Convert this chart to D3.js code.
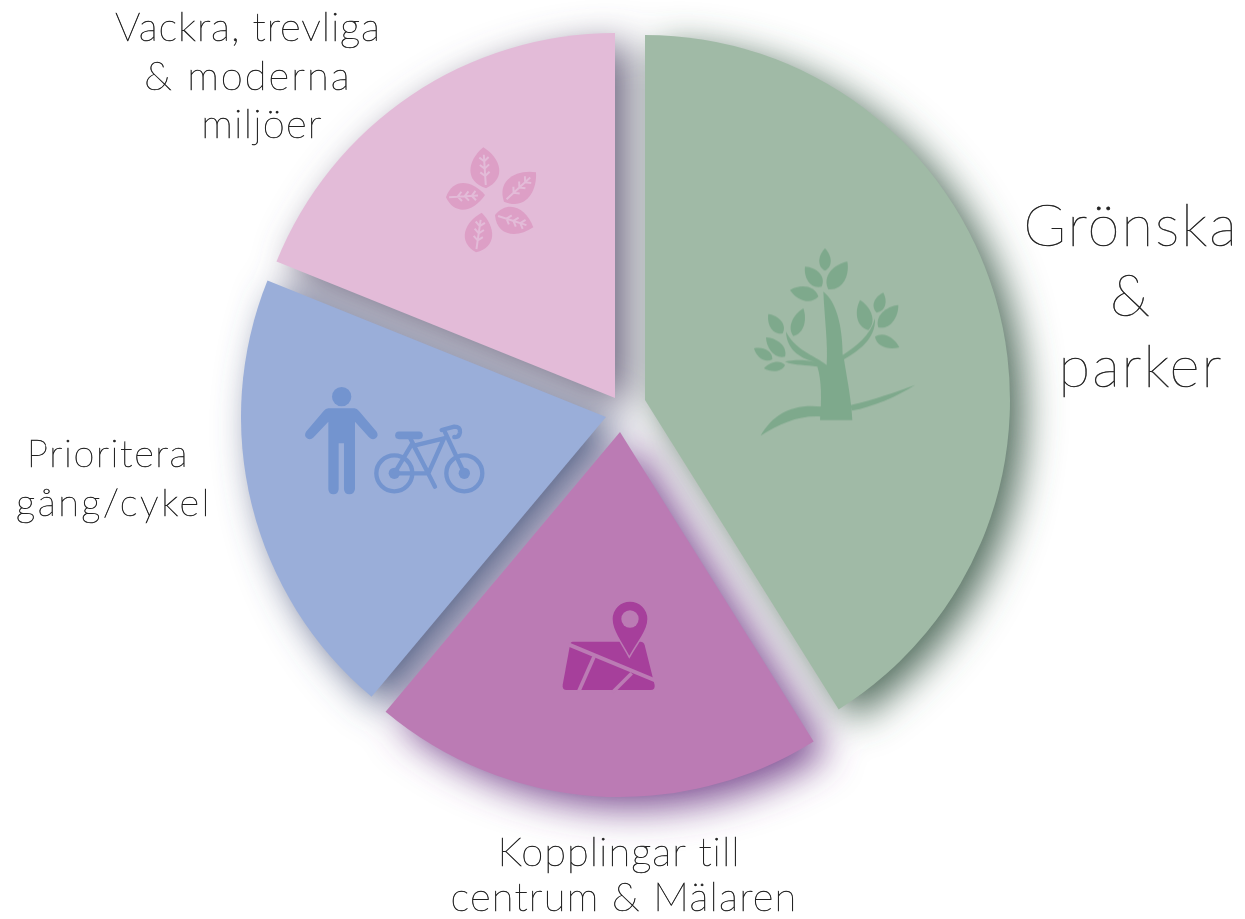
<!DOCTYPE html>
<html><head><meta charset="utf-8">
<script src="https://cdn.jsdelivr.net/npm/d3@7/dist/d3.min.js"></script>
<style>html,body{margin:0;padding:0;background:#fff}svg{display:block}</style></head>
<body><svg id="c" width="1245" height="919"></svg>
<script>
// DATA
const categories = ["Grönska & parker","Kopplingar till centrum & Mälaren","Prioritera gång/cykel","Vackra, trevliga & moderna miljöer"];
const values = [41.1, 20, 20, 18.9];
const sliceColors = ["#a0baa6","#bb7bb4","#9aaed9","#e3bbd8"];
const shadowColors = ["#4a6555","#74408a","#4d5a80","#66607a"];
const iconColors = ["#7ea98c","#a63f9b","#7394cf","#dd9fc6"];

// LAYOUT
const W=1245,H=919,R=365;
const apexes=[[645,400],[620,432],[606,417],[615,398]];
const svg=d3.select("#c");
const defs=svg.append("defs");
defs.append("filter").attr("id","blur").attr("filterUnits","userSpaceOnUse").attr("x",0).attr("y",0).attr("width",W).attr("height",H)
  .append("feGaussianBlur").attr("stdDeviation",19);
const pie=d3.pie().sort(null).value(d=>d)(values);
const arc=d3.arc().innerRadius(0).outerRadius(R);
const shadows=svg.append("g").attr("filter","url(#blur)");
shadows.selectAll("path").data(pie).join("path")
  .attr("d",arc).attr("fill",(d,i)=>shadowColors[i]).attr("opacity",.95)
  .attr("transform",(d,i)=>`translate(${apexes[i][0]+14},${apexes[i][1]+11})`);
svg.append("g").selectAll("path").data(pie).join("path")
  .attr("d",arc).attr("fill",(d,i)=>sliceColors[i])
  .attr("transform",(d,i)=>`translate(${apexes[i][0]},${apexes[i][1]})`);

// ICONS (decorative glyphs, drawn in a 3x local grid)
function leaf(g,x1,y1,x2,y2,w,fill){
  const dx=x2-x1,dy=y2-y1,L=Math.hypot(dx,dy),nx=-dy/L*w*.82,ny=dx/L*w*.82;
  const a=[x1+dx*.2+nx,y1+dy*.2+ny],b=[x1+dx*.2-nx,y1+dy*.2-ny],
        a2=[x1+dx*.7+nx*.8,y1+dy*.7+ny*.8],b2=[x1+dx*.7-nx*.8,y1+dy*.7-ny*.8];
  g.append("path").attr("fill",fill)
   .attr("d",`M${x1},${y1}C${a} ${a2} ${x2},${y2}C${b2} ${b} ${x1},${y1}Z`);
}
// tree
const tree=svg.append("g").attr("transform","translate(740,240) scale(0.3333)");
const tc=iconColors[0];
[[255,92,255,25,31],[245,140,195,80,38],[265,148,322,65,46],[235,170,150,150,38],
 [385,270,360,180,40],[410,218,430,158,31],[415,262,475,195,38],[405,290,478,322,32],
 [160,288,190,205,34],[128,280,85,222,34],[135,350,78,292,34],[97,358,42,325,28],[135,375,72,385,24]]
 .forEach(l=>leaf(tree,...l,tc));
tree.append("path").attr("fill",tc).attr("d","M240,540L337,540C334,480 322,420 312,358C350,335 408,300 405,235C392,285 350,318 308,345C308,280 296,190 250,155C254,240 264,310 260,375C220,345 165,330 138,275C140,335 190,358 225,366C190,358 160,360 135,365C165,378 200,374 232,380C245,420 245,480 240,540Z");
tree.append("path").attr("fill",tc).attr("d","M62,587C100,520 160,490 245,500L245,530C180,525 120,550 62,587Z");
tree.append("path").attr("fill",tc).attr("d","M332,495C400,480 470,455 525,435C470,470 400,500 335,512Z");
// flower
const fl=svg.append("g").attr("transform","translate(430,140) scale(0.3333)");
[[168,145,160,22,78],[222,185,318,97,74],[195,225,310,262,72],[138,337,155,218,74],[48,172,165,165,72]].forEach(l=>{
  leaf(fl,...l,iconColors[3]);
  const [x1,y1,x2,y2]=l,dx=x2-x1,dy=y2-y1;
  let s=`M${x1+dx*.08},${y1+dy*.08}L${x1+dx*.82},${y1+dy*.82}`;
  [.3,.48,.66].forEach(t=>{
    const cx=x1+dx*t,cy=y1+dy*t,L=Math.hypot(dx,dy),ux=dx/L,uy=dy/L,nx=-uy,ny=ux;
    s+=`M${cx},${cy}L${cx+ux*12+nx*14},${cy+uy*12+ny*14}M${cx},${cy}L${cx+ux*12-nx*14},${cy+uy*12-ny*14}`;
  });
  fl.append("path").attr("d",s).attr("fill","none").attr("stroke",sliceColors[3]).attr("stroke-width",6);
});
// person + bicycle
const pb=svg.append("g").attr("transform","translate(295,375) scale(0.3333)");
const bc=iconColors[2];
pb.append("circle").attr("cx",140).attr("cy",65).attr("r",29).attr("fill",bc);
pb.append("path").attr("fill",bc).attr("d","M100,100H178Q186,100 192,108L245,170Q252,182 242,190Q232,197 222,187L180,140V342Q178,358 163,358Q148,358 147,342V205H131V342Q130,358 115,358Q101,358 100,342V140L56,187Q46,197 36,190Q26,182 33,170L86,108Q92,100 100,100Z");
pb.selectAll(".w").data([[298,295],[508,295]]).join("circle").attr("cx",d=>d[0]).attr("cy",d=>d[1]).attr("r",54).attr("fill","none").attr("stroke",bc).attr("stroke-width",13);
pb.selectAll(".h").data([[298,295],[508,295]]).join("circle").attr("cx",d=>d[0]).attr("cy",d=>d[1]).attr("r",17).attr("fill",bc);
pb.append("path").attr("fill","none").attr("stroke",bc).attr("stroke-width",13).attr("stroke-linecap","round").attr("stroke-linejoin","round")
  .attr("d","M298,295L352,205L400,295L298,295M345,188L420,335M357,212L447,190L400,295M447,165L508,295M440,165L478,155Q497,155 495,172Q492,188 478,186");
pb.append("line").attr("x1",312).attr("y1",181).attr("x2",372).attr("y2",181).attr("stroke",bc).attr("stroke-width",23).attr("stroke-linecap","round");
// map pin
const mp=svg.append("g").attr("transform","translate(550,595) scale(0.3333)");
const mc=iconColors[1];
mp.append("path").attr("fill",mc).attr("d","M68,140H272Q280,140 284,150L314,270Q316,285 302,285H50Q36,285 38,270L60,150Q62,140 68,140Z");
mp.append("g").attr("stroke",sliceColors[1]).attr("fill","none").call(g=>{
  g.append("path").attr("stroke-width",12).attr("d","M55,148L320,258");
  g.append("path").attr("stroke-width",11).attr("d","M132,185L85,292");
  g.append("path").attr("stroke-width",11).attr("d","M245,235L188,292");
});
mp.append("path").attr("fill",mc).attr("stroke",sliceColors[1]).attr("stroke-width",9).attr("paint-order","stroke").attr("d","M238,182C215,140 188,105 188,72A52,52 0 0 1 292,72C292,105 262,140 238,182Z");
mp.append("circle").attr("cx",240).attr("cy",72).attr("r",26).attr("fill",sliceColors[1]);

// LABELS
const labels=[
 ["Vackra, trevliga",248,41,40,.9],["& moderna",248,90,40,2],["miljöer",262,138,40,1.2],
 ["Grönska",1131,246,58,2],["&",1130,316,58,0],["parker",1141,387,58,2],
 ["Prioritera",108,467,38,1.6],["gång/cykel",114,516,38,2.5],
 ["Kopplingar till",619,866,40,1],["centrum & Mälaren",624,911,40,1.2]];
svg.append("g").selectAll("text").data(labels).join("text")
 .attr("x",d=>d[1]).attr("y",d=>d[2]).attr("font-size",d=>d[3]).attr("letter-spacing",d=>d[4]).text(d=>d[0])
 .attr("text-anchor","middle").attr("font-family","Lato").attr("font-weight",100).attr("fill","#222").attr("stroke","#222").attr("stroke-width",.55);
</script></body></html>
